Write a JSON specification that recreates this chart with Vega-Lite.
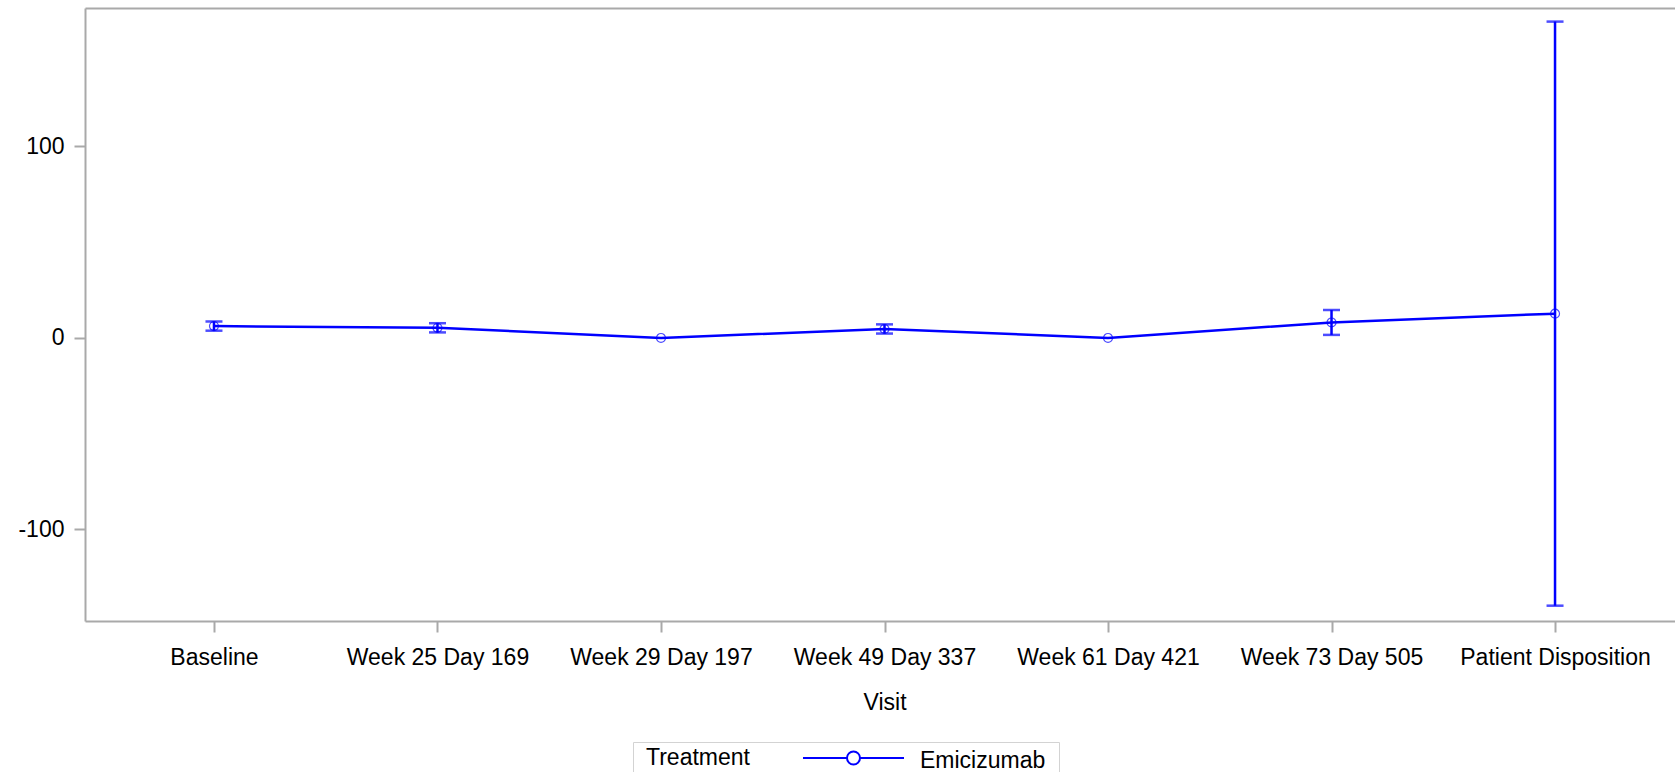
{
  "$schema": "https://vega.github.io/schema/vega-lite/v6.json",
  "autosize": {"type": "none"},
  "padding": {"left": 85, "top": 8, "right": 0, "bottom": 151},
  "width": 1590,
  "height": 613,
  "background": "white",
  "view": {"stroke": null},
  "data": {
    "values": [
      {"visit": "Baseline", "mean": 6.2, "lower": 3.8, "upper": 8.6, "trt": "Emicizumab"},
      {"visit": "Week 25 Day 169", "mean": 5.3, "lower": 2.9, "upper": 7.7, "trt": "Emicizumab"},
      {"visit": "Week 29 Day 197", "mean": 0, "lower": null, "upper": null, "trt": "Emicizumab"},
      {"visit": "Week 49 Day 337", "mean": 4.7, "lower": 2.3, "upper": 7.1, "trt": "Emicizumab"},
      {"visit": "Week 61 Day 421", "mean": 0, "lower": null, "upper": null, "trt": "Emicizumab"},
      {"visit": "Week 73 Day 505", "mean": 8.1, "lower": 1.6, "upper": 14.6, "trt": "Emicizumab"},
      {"visit": "Patient Disposition", "mean": 12.7, "lower": -139.8, "upper": 165.2, "trt": "Emicizumab"}
    ]
  },
  "config": {
    "font": "Liberation Sans",
    "axis": {
      "labelFont": "Liberation Sans",
      "labelFontSize": 23,
      "labelColor": "#000000",
      "labelLimit": 0,
      "titleFont": "Liberation Sans",
      "titleFontSize": 23,
      "titleFontWeight": "normal",
      "titleColor": "#000000",
      "domainColor": "#a9a9a9",
      "domainWidth": 2,
      "tickColor": "#a9a9a9",
      "tickWidth": 2,
      "tickSize": 11,
      "grid": false
    },
    "legend": {
      "labelFont": "Liberation Sans",
      "labelFontSize": 23,
      "labelColor": "#000000",
      "labelLimit": 0,
      "titleFont": "Liberation Sans",
      "titleFontSize": 23,
      "titleFontWeight": "normal",
      "titleColor": "#000000"
    }
  },
  "resolve": {"axis": {"x": "independent"}},
  "layer": [
    {
      "mark": {"type": "rule", "color": "#0000ff", "strokeWidth": 2.5},
      "encoding": {
        "x": {
          "field": "visit",
          "type": "nominal",
          "scale": {
            "type": "point",
            "padding": 0.577,
            "range": [0, 1599],
            "domain": ["Baseline", "Week 25 Day 169", "Week 29 Day 197", "Week 49 Day 337", "Week 61 Day 421", "Week 73 Day 505", "Patient Disposition"]
          },
          "axis": {"orient": "bottom", "title": "Visit", "labelAngle": 0, "labelPadding": 14, "titlePadding": 22}
        },
        "y": {
          "field": "lower",
          "type": "quantitative",
          "scale": {"domain": [-147.8, 172.3], "nice": false, "zero": false},
          "axis": {"title": null, "values": [-100, 0, 100], "labelPadding": 10, "labelExpr": "'' + datum.value"}
        },
        "y2": {"field": "upper"}
      }
    },
    {
      "mark": {"type": "tick", "color": "#0000ff", "size": 17, "thickness": 2.5},
      "encoding": {
        "x": {"field": "visit", "type": "nominal", "axis": null},
        "y": {"field": "lower", "type": "quantitative"}
      }
    },
    {
      "mark": {"type": "tick", "color": "#0000ff", "size": 17, "thickness": 2.5},
      "encoding": {
        "x": {"field": "visit", "type": "nominal", "axis": null},
        "y": {"field": "upper", "type": "quantitative"}
      }
    },
    {
      "mark": {"type": "line", "strokeWidth": 2.5},
      "encoding": {
        "x": {
          "field": "visit",
          "type": "nominal",
          "axis": {"orient": "top", "labels": false, "ticks": false, "title": null, "domain": true}
        },
        "y": {"field": "mean", "type": "quantitative"},
        "color": {
          "field": "trt",
          "type": "nominal",
          "scale": {"range": ["#0000ff"]},
          "legend": {
            "title": "Treatment",
            "orient": "none",
            "legendX": 548,
            "legendY": 734,
            "direction": "horizontal",
            "titleOrient": "left",
            "strokeColor": "#d3d3d3",
            "fillColor": "white",
            "padding": 13,
            "symbolType": "M-7.77,0H-1M1,0H7.77M1,0A1,1 0 1,1 -1,0A1,1 0 1,1 1,0",
            "symbolSize": 169,
            "symbolStrokeWidth": 2,
            "symbolFillColor": "transparent",
            "titlePadding": 92,
            "labelOffset": 55,
            "encode": {
              "labels": {"update": {"dy": {"value": -6}}},
              "title": {"update": {"dy": {"value": -6}}},
              "symbols": {"update": {"yc": {"value": 3}}}
            }
          }
        }
      }
    },
    {
      "mark": {"type": "point", "shape": "circle", "filled": false, "color": "#0000ff", "size": 80, "strokeWidth": 1.2},
      "encoding": {
        "x": {"field": "visit", "type": "nominal", "axis": null},
        "y": {"field": "mean", "type": "quantitative"}
      }
    }
  ]
}
